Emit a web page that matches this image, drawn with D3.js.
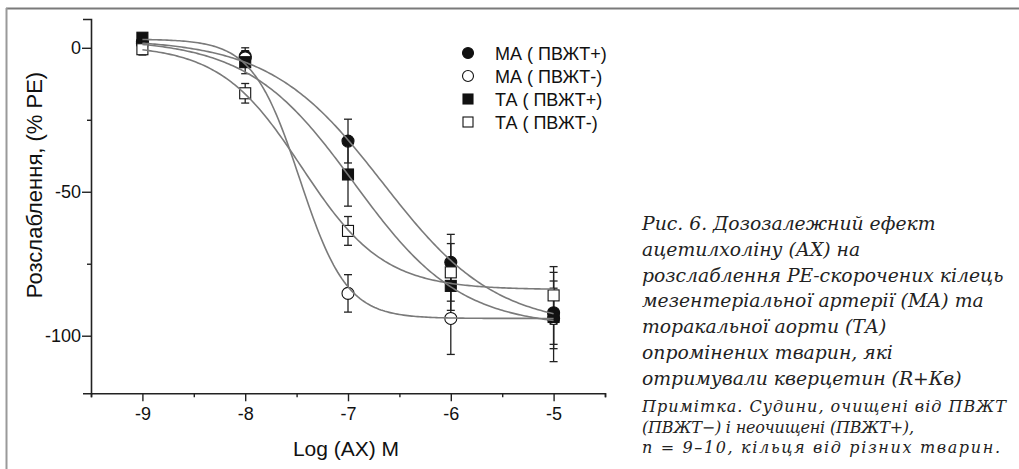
<!DOCTYPE html>
<html>
<head>
<meta charset="utf-8">
<script src="https://cdn.jsdelivr.net/npm/d3@7"></script>
<style>
  body { margin: 0; background: #fff; }
  svg { display: block; }
</style>
</head>
<body>
<div id="chart"></div>
<script>
// donnees
var doses = [-9, -8, -7, -6, -5];
var xTicks = [-9, -8, -7, -6, -5];
var yTicks = [0, -50, -100];

var maPlus = [2, -3, -32.4, -74.5, -92];
var maPlusErr = [1.5, 3, 7.6, 9.7, 11];
var maMinus = [1.5, -3.5, -85.3, -94, -94];
var maMinusErr = [1.5, 2, 6.5, 12.5, 10.5];
var taPlus = [3.5, -5, -44, -82.7, -93.5];
var taPlusErr = [1.5, 4, 11, 8.5, 15.5];
var taMinus = [-0.5, -15.8, -63.6, -78, -86];
var taMinusErr = [2, 3.4, 5, 10, 10];

// parametres des courbes ajustees : haut, bas, logEC50, pente
var maPlusFit = [3, -97, -6.66, 0.79];
var maMinusFit = [3, -94, -7.47, 1.9];
var taPlusFit = [3, -97, -6.94, 0.84];
var taMinusFit = [1, -84, -7.45, 1.09];

var legendLabels = ["МА ( ПВЖТ+)", "МА ( ПВЖТ-)", "ТА ( ПВЖТ+)", "ТА ( ПВЖТ-)"];

var captionLines = [
  "Рис. 6. Дозозалежний ефект",
  "ацетилхоліну (АХ) на",
  "розслаблення РЕ-скорочених кілець",
  "мезентеріальної артерії (МА) та",
  "торакальної аорти (ТА)",
  "опромінених тварин, які",
  "отримували кверцетин (R+Кв)"
];
var noteLines = [
  "Примітка. Судини, очищені від ПВЖТ",
  "(ПВЖТ−) і неочищені (ПВЖТ+),",
  "n = 9–10, кільця від різних тварин."
];
var noteWidths = [364, 272, 358];

var series = [
  { values: maPlus, err: maPlusErr, fit: maPlusFit, shape: "circle", filled: true },
  { values: maMinus, err: maMinusErr, fit: maMinusFit, shape: "circle", filled: false },
  { values: taPlus, err: taPlusErr, fit: taPlusFit, shape: "square", filled: true },
  { values: taMinus, err: taMinusErr, fit: taMinusFit, shape: "square", filled: false }
];

var width = 1019,
    height = 469;

var svg = d3.select("#chart")
  .append("svg")
  .attr("width", width)
  .attr("height", height);

// cadre gris
svg.append("line").attr("x1", 6).attr("x2", width).attr("y1", 8.5).attr("y2", 8.5)
  .attr("stroke", "#7a7a7a").attr("stroke-width", 2);
svg.append("line").attr("x1", 6.5).attr("x2", 6.5).attr("y1", 8).attr("y2", height)
  .attr("stroke", "#9a9a9a").attr("stroke-width", 2);

var x = d3.scaleLinear().domain([-9.5, -4.5]).range([91, 605]);
var y = d3.scaleLinear().domain([-120, 10]).range([393.3, 19]);

// axes
var xAxis = svg.append("g").attr("transform", "translate(0," + y(-120) + ")");
xAxis.call(d3.axisBottom(x).tickValues(d3.range(-9.5, -4.4, 0.5)).tickSize(4).tickFormat(""));
xAxis.selectAll(".tick line").attr("y2", function(d) { return Number.isInteger(d) ? 8 : 4; });
var xLab = svg.append("g").attr("transform", "translate(0," + y(-120) + ")")
  .call(d3.axisBottom(x).tickValues(xTicks).tickSize(0).tickPadding(14)
    .tickFormat(function(d) { return String(d); }));
xLab.select(".domain").remove();

var yAxis = svg.append("g").attr("transform", "translate(" + x(-9.5) + ",0)");
yAxis.call(d3.axisLeft(y).tickValues([0, -25, -50, -75, -100]).tickSize(8).tickPadding(2)
  .tickFormat(function(d) { return yTicks.indexOf(d) >= 0 ? String(d) : ""; }));
yAxis.selectAll(".tick line").attr("x2", function(d) { return yTicks.indexOf(d) >= 0 ? -9 : -4; });

svg.selectAll(".domain").attr("stroke", "#222").attr("stroke-width", 1.6);
svg.selectAll(".tick line").attr("stroke", "#222").attr("stroke-width", 1.4);
svg.selectAll(".tick text").attr("font-family", "Liberation Sans, Arial, sans-serif")
  .attr("font-size", 18).attr("fill", "#111");

// titres des axes
svg.append("text")
  .attr("x", 346).attr("y", 456)
  .attr("text-anchor", "middle")
  .attr("font-family", "Liberation Sans, Arial, sans-serif")
  .attr("font-size", 21)
  .attr("fill", "#111")
  .text("Log (АХ) M");

svg.append("text")
  .attr("transform", "translate(42,185) rotate(-90)")
  .attr("text-anchor", "middle")
  .attr("font-family", "Liberation Sans, Arial, sans-serif")
  .attr("font-size", 22)
  .attr("fill", "#111")
  .text("Розслаблення, (% PE)");

// barres d'erreur
var capW = 4;
series.forEach(function(s) {
  var g = svg.append("g");
  doses.forEach(function(d, i) {
    var lo = s.values[i] - s.err[i], hi = s.values[i] + s.err[i];
    g.append("line").attr("x1", x(d)).attr("x2", x(d)).attr("y1", y(lo)).attr("y2", y(hi))
      .attr("stroke", "#222").attr("stroke-width", 1.3);
    [lo, hi].forEach(function(v) {
      g.append("line").attr("x1", x(d) - capW).attr("x2", x(d) + capW).attr("y1", y(v)).attr("y2", y(v))
        .attr("stroke", "#222").attr("stroke-width", 1.3);
    });
  });
});

function drawMarker(g, shape, filled, cx, cy, size) {
  if (shape === "circle") {
    g.append("circle").attr("cx", cx).attr("cy", cy).attr("r", size / 2)
      .attr("fill", filled ? "#111" : "#fff").attr("stroke", "#111").attr("stroke-width", 1.1);
  } else {
    g.append("rect").attr("x", cx - size / 2).attr("y", cy - size / 2)
      .attr("width", size).attr("height", size)
      .attr("fill", filled ? "#111" : "#fff").attr("stroke", "#111").attr("stroke-width", 1.1);
  }
}

// points
series.forEach(function(s) {
  var g = svg.append("g");
  doses.forEach(function(d, i) {
    drawMarker(g, s.shape, s.filled, x(d), y(s.values[i]), s.shape === "circle" ? 12 : 11);
  });
});

// courbes ajustees (sigmoide dose-reponse)
var line = d3.line().x(function(d) { return x(d[0]); }).y(function(d) { return y(d[1]); });
series.forEach(function(s) {
  var p = s.fit;
  var pts = d3.range(-9, -4.999, 0.02).map(function(v) {
    return [v, p[1] + (p[0] - p[1]) / (1 + Math.pow(10, (v - p[2]) * p[3]))];
  });
  svg.append("path").datum(pts)
    .attr("d", line)
    .attr("fill", "none")
    .attr("stroke", "#7a7a7a")
    .attr("stroke-width", 1.6);
});

// legende
var legend = svg.append("g");
legendLabels.forEach(function(lab, i) {
  var ly = 53 + i * 23;
  var s = series[i];
  drawMarker(legend, s.shape, s.filled, 468, ly, s.shape === "circle" ? 11 : 10);
  legend.append("text")
    .attr("x", 495).attr("y", ly + 6.5)
    .attr("font-family", "Liberation Sans, Arial, sans-serif")
    .attr("font-size", 18)
    .attr("fill", "#111")
    .text(lab);
});

// legende de la figure
var cap = svg.append("g")
  .attr("font-family", "DejaVu Serif, serif")
  .attr("font-style", "italic")
  .attr("fill", "#222");
captionLines.forEach(function(t, i) {
  var tx = cap.append("text")
    .attr("x", 642).attr("y", 230 + i * 25.8)
    .attr("font-size", 18.8)
    .text(t);
  // ne pas depasser le bord droit
  if (tx.node().getComputedTextLength() > 372) tx.attr("textLength", 372);
});
noteLines.forEach(function(t, i) {
  cap.append("text")
    .attr("x", 642).attr("y", 411.7 + i * 20.8)
    .attr("font-size", 16)
    .attr("textLength", noteWidths[i])
    .text(t);
});
</script>
</body>
</html>
